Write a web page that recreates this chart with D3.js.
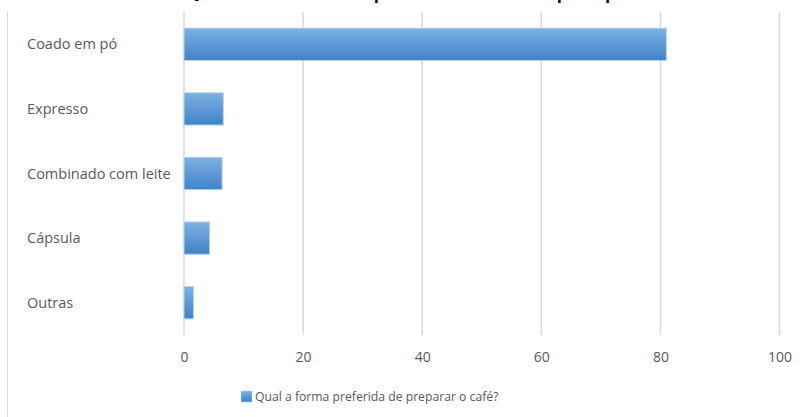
<!DOCTYPE html>
<html>
<head>
<meta charset="utf-8">
<script src="https://cdn.jsdelivr.net/npm/d3@7"></script>
<style>
  body { margin: 0; background: #fff; }
  svg { display: block; font-family: "Open Sans", sans-serif; }
  .grid line { stroke: #d9d9d9; stroke-width: 1.5; }
  .label { fill: #595959; }
  .cat { font-size: 14.5px; }
  .tick-label { font-size: 14px; }
  .legend-label { font-size: 12.2px; }
</style>
</head>
<body>
<div id="chart"></div>
<script>
var title = 'Gráfico 3 - Qual a forma preferida de preparar o café';
var categories = ['Coado em pó', 'Expresso', 'Combinado com leite', 'Cápsula', 'Outras'];
var values = [81, 6.6, 6.4, 4.3, 1.6];
var ticks = [0, 20, 40, 60, 80, 100];
var seriesName = 'Qual a forma preferida de preparar o café?';

var size = { w: 801, h: 417 };
var plot = { left: 184, right: 779.5, top: 12, bottom: 335 };

var svg = d3.select('#chart').append('svg')
  .attr('width', size.w)
  .attr('height', size.h);

var defs = svg.append('defs');
var grad = defs.append('linearGradient')
  .attr('id', 'barfill')
  .attr('x1', 0).attr('y1', 0).attr('x2', 0).attr('y2', 1);
grad.append('stop').attr('offset', '0%').attr('stop-color', '#7eb1e2');
grad.append('stop').attr('offset', '100%').attr('stop-color', '#3e83c9');

// title, mostly cut off by the top edge
svg.append('text')
  .attr('x', 25)
  .attr('y', -4)
  .attr('font-size', 30.5)
  .attr('fill', '#000')
  .text(title);

// left border of the chart area
svg.append('line')
  .attr('x1', 7.5).attr('x2', 7.5)
  .attr('y1', 12).attr('y2', size.h)
  .attr('stroke', '#d9d9d9')
  .attr('stroke-width', 1);

var x = d3.scaleLinear()
  .domain([0, 100])
  .range([plot.left, plot.right]);

var y = d3.scaleBand()
  .domain(categories)
  .range([plot.top, plot.bottom])
  .paddingInner(0.5)
  .paddingOuter(0.25);

// gridlines
svg.append('g')
  .attr('class', 'grid')
  .selectAll('line')
  .data(ticks)
  .enter().append('line')
  .attr('x1', function(d) { return x(d); })
  .attr('x2', function(d) { return x(d); })
  .attr('y1', plot.top)
  .attr('y2', plot.bottom);

// bars
svg.append('g')
  .selectAll('rect')
  .data(values)
  .enter().append('rect')
  .attr('x', x(0))
  .attr('y', function(d, i) { return y(categories[i]); })
  .attr('width', function(d) { return x(d) - x(0); })
  .attr('height', y.bandwidth())
  .attr('fill', 'url(#barfill)')
  .attr('stroke', '#b5d2ef')
  .attr('stroke-width', 1);

// category labels
svg.append('g')
  .selectAll('text')
  .data(categories)
  .enter().append('text')
  .attr('class', 'label cat')
  .attr('x', 27)
  .attr('y', function(d) { return y(d) + y.bandwidth()/2; })
  .attr('dy', '0.35em')
  .text(function(d) { return d; });

// x axis
var axis = d3.axisBottom(x)
  .tickValues(ticks)
  .tickSize(0)
  .tickPadding(0);
var gx = svg.append('g')
  .attr('transform', 'translate(0,' + 357 + ')')
  .call(axis);
gx.select('.domain').remove();
gx.attr('font-family', null).attr('font-size', null);
gx.selectAll('text')
  .attr('class', 'label tick-label')
  .attr('y', 0)
  .attr('dy', '0.35em');

// legend
var legend = svg.append('g').attr('transform', 'translate(241,391)');
legend.append('rect')
  .attr('width', 11)
  .attr('height', 11)
  .attr('fill', 'url(#barfill)')
  .attr('stroke', '#b5d2ef')
  .attr('stroke-width', 0.5);
legend.append('text')
  .attr('class', 'label legend-label')
  .attr('x', 14)
  .attr('y', 5.5)
  .attr('dy', '0.35em')
  .text(seriesName);
</script>
</body>
</html>
